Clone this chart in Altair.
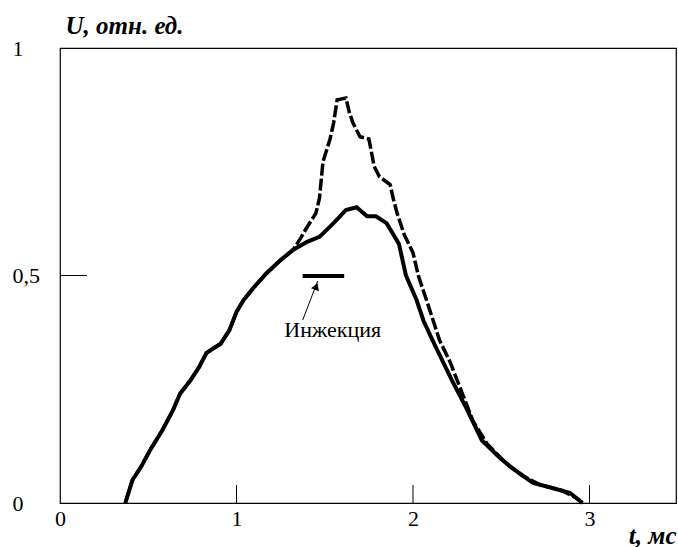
import altair as alt
import pandas as pd

# Curve A (lower, solid)
t_a = [0.37, 0.41, 0.46, 0.51, 0.58, 0.64, 0.68, 0.74, 0.79, 0.83, 0.91, 0.96, 1.00, 1.04,
       1.09, 1.17, 1.25, 1.32, 1.40, 1.47, 1.55, 1.62, 1.68, 1.74, 1.79, 1.85, 1.92, 1.96,
       2.02, 2.06, 2.12, 2.22, 2.30, 2.39, 2.49, 2.56, 2.68, 2.79, 2.89, 2.96]
u_a = [0.0, 0.05, 0.08, 0.116, 0.16, 0.204, 0.24, 0.27, 0.30, 0.33, 0.35, 0.38, 0.42, 0.446,
       0.47, 0.505, 0.534, 0.556, 0.574, 0.585, 0.615, 0.644, 0.65, 0.63, 0.63, 0.615, 0.57, 0.50,
       0.446, 0.40, 0.35, 0.27, 0.21, 0.138, 0.10, 0.077, 0.044, 0.033, 0.022, 0.0]

# Curve B (upper, dashed)
t_b = [0.37, 0.41, 0.46, 0.51, 0.58, 0.64, 0.68, 0.74, 0.79, 0.83, 0.91, 0.96, 1.00, 1.04,
       1.09, 1.17, 1.25, 1.32, 1.36, 1.39, 1.45, 1.47, 1.49, 1.53, 1.55, 1.57, 1.62, 1.64,
       1.66, 1.70, 1.75, 1.78, 1.81, 1.87, 1.89, 1.91, 1.95, 2.00, 2.03, 2.09, 2.15, 2.21,
       2.28, 2.34, 2.42, 2.52, 2.62, 2.72, 2.84, 2.93, 2.96]
u_b = [0.0, 0.05, 0.08, 0.116, 0.16, 0.204, 0.24, 0.27, 0.30, 0.33, 0.35, 0.38, 0.42, 0.446,
       0.47, 0.505, 0.534, 0.556, 0.58, 0.60, 0.637, 0.67, 0.75, 0.80, 0.835, 0.886, 0.89, 0.857,
       0.835, 0.805, 0.80, 0.74, 0.717, 0.70, 0.666, 0.637, 0.59, 0.55, 0.50, 0.43, 0.358, 0.31,
       0.24, 0.18, 0.13, 0.09, 0.06, 0.04, 0.028, 0.01, 0.0]

x_ticks = [1, 2, 3]
y_ticks = [0.5]
x_label_values = [0, 1, 2, 3]
y_label_values = [0, 0.5, 1]

inj_t = [1.375, 1.61]
inj_u = 0.499
arrow_t = [1.375, 1.46]
arrow_u = [0.402, 0.488]
note_text = "Инжекция"
note_t = 1.545
note_u = 0.365

W, H = 616, 455
FONT = "Liberation Serif"

xs = alt.Scale(domain=[0, 3.49], nice=False, zero=False)
ys = alt.Scale(domain=[0, 1], nice=False)

df_a = pd.DataFrame({"t": t_a, "u": u_a})
df_b = pd.DataFrame({"t": t_b, "u": u_b})

x_axis = alt.Axis(values=x_label_values, ticks=False, domain=False, grid=False,
                  labelFont=FONT, labelFontSize=22, labelColor="black", labelPadding=5,
                  labelFlush=False, format="~g",
                  title="t, мс", titleFont=FONT, titleFontSize=25, titleFontStyle="italic",
                  titleFontWeight="bold", titleColor="black", titleX=W, titleY=40,
                  titleAlign="right", titleBaseline="alphabetic", titleAnchor="end")
y_axis = alt.Axis(values=y_label_values, ticks=False, domain=False, grid=False,
                  labelFont=FONT, labelFontSize=22, labelColor="black", labelPadding=48,
                  labelAlign="left", labelBaseline="middle", labelFlush=False, format="~g",
                  labelExpr="replace(datum.label, '.', ',')",
                  title="U, отн. ед.", titleFont=FONT, titleFontSize=25, titleFontStyle="italic",
                  titleFontWeight="bold", titleColor="black", titleAngle=0, titleX=5, titleY=-15,
                  titleAlign="left", titleBaseline="alphabetic")


def X(f):
    return alt.X(f, scale=xs, axis=x_axis)


def Y(f):
    return alt.Y(f, scale=ys, axis=y_axis)


curve_a = alt.Chart(df_a).mark_line(color="black", strokeWidth=4).encode(
    x=X("t:Q"), y=Y("u:Q"))
curve_b = alt.Chart(df_b).mark_line(color="black", strokeWidth=3.5, strokeDash=[12, 3]).encode(
    x=X("t:Q"), y=Y("u:Q"))

xt = alt.Chart(pd.DataFrame({"t": x_ticks})).mark_rule(color="black", strokeWidth=1).encode(
    x=X("t:Q"), y=alt.value(H), y2=alt.value(H - 18))
yt = alt.Chart(pd.DataFrame({"u": y_ticks})).mark_rule(color="black", strokeWidth=1).encode(
    y=Y("u:Q"), x=alt.value(0), x2=alt.value(27))

inj = alt.Chart(pd.DataFrame({"t": [inj_t[0]], "t2": [inj_t[1]], "u": [inj_u]})).mark_rule(
    color="black", strokeWidth=4).encode(x=X("t:Q"), x2="t2:Q", y=Y("u:Q"))

arrow = alt.Chart(pd.DataFrame({"t": [arrow_t[0]], "t2": [arrow_t[1]],
                                "u": [arrow_u[0]], "u2": [arrow_u[1]]})).mark_rule(
    color="black", strokeWidth=1).encode(x=X("t:Q"), x2="t2:Q", y=Y("u:Q"), y2="u2:Q")

head = alt.Chart(pd.DataFrame({"t": [arrow_t[1] - 0.008], "u": [arrow_u[1] - 0.012]})).mark_point(
    shape="triangle-up", filled=True, color="black", size=70, angle=21, opacity=1).encode(
    x=X("t:Q"), y=Y("u:Q"))

note = alt.Chart(pd.DataFrame({"t": [note_t], "u": [note_u], "s": [note_text]})).mark_text(
    font=FONT, fontSize=22, color="black", align="center", baseline="alphabetic").encode(
    x=X("t:Q"), y=Y("u:Q"), text="s:N")

chart = alt.layer(curve_a, curve_b, xt, yt, inj, arrow, head, note).properties(
    width=W, height=H,
    autosize=alt.AutoSizeParams(type="none"),
    padding={"left": 60, "top": 48, "right": 2, "bottom": 44},
    background="white",
).configure_view(stroke="black", strokeWidth=1.2)

chart.save("out.html", embed_options={"renderer": "svg", "actions": False})
